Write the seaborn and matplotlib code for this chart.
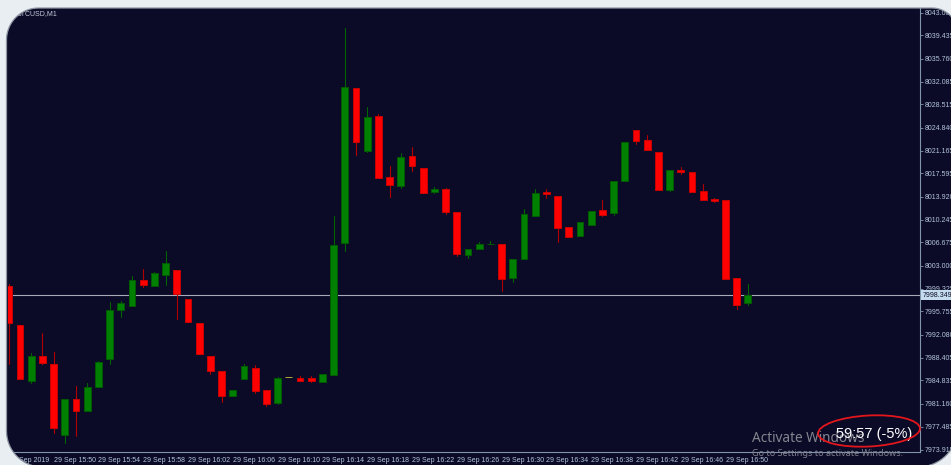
import numpy as np
import pandas as pd
import matplotlib
matplotlib.use("Agg")
import matplotlib.pyplot as plt
import seaborn as sns
from matplotlib.path import Path
from matplotlib.patches import PathPatch, Ellipse
from matplotlib.transforms import blended_transform_factory

# BTCUSD M1, 29 Sep 2019, one candle per minute from 15:46 to 16:52
opens = [7999.84, 7993.57, 7984.80, 7988.71, 7987.45, 7976.26, 7981.86, 7980.01, 7983.81, 7988.28,
         7995.94, 7996.62, 8000.78, 7999.84, 8001.53, 8002.32, 7997.78, 7993.89, 7988.71, 7986.39,
         7982.34, 7985.12, 7986.77, 7983.33, 7981.23, 7985.34, 7985.23, 7985.23, 7984.55, 7985.75,
         8006.59, 8031.12, 8021.20, 8026.69, 8017.03, 8015.66, 8020.31, 8018.51, 8014.66, 8015.09,
         8011.45, 8004.69, 8005.59, 8006.38, 8006.43, 8001.05, 8004.06, 8010.91, 8014.71, 8014.08,
         8009.12, 8007.70, 8009.44, 8011.81, 8011.39, 8016.45, 8024.47, 8022.84, 8020.94, 8015.03,
         8018.14, 8017.78, 8014.87, 8013.51, 8013.35, 8001.05, 7997.10]
highs = [8000.10, 7993.60, 7989.19, 7992.40, 7989.39, 7981.86, 7983.97, 7984.49, 7987.92, 7997.26,
         7997.41, 8001.37, 8002.48, 8002.05, 8005.33, 8002.32, 7997.78, 7993.89, 7988.71, 7986.39,
         7983.33, 7987.40, 7987.29, 7983.33, 7985.44, 7985.34, 7985.55, 7985.55, 7985.86, 8010.86,
         8040.56, 8031.12, 8028.16, 8027.00, 8018.78, 8020.79, 8021.78, 8018.51, 8015.41, 8015.29,
         8011.45, 8005.59, 8006.75, 8006.91, 8006.43, 8004.14, 8011.97, 8015.14, 8015.18, 8014.08,
         8009.12, 8009.91, 8011.66, 8013.40, 8016.40, 8022.53, 8024.47, 8023.68, 8020.94, 8018.10,
         8018.57, 8017.78, 8015.93, 8013.66, 8013.35, 8001.05, 8000.15]
lows = [7987.45, 7985.03, 7984.49, 7987.45, 7976.58, 7974.99, 7976.05, 7980.01, 7983.81, 7987.49,
        7994.93, 7996.62, 7999.68, 7999.84, 7999.95, 7994.57, 7994.09, 7988.98, 7985.91, 7981.48,
        7982.34, 7985.12, 7982.90, 7980.85, 7981.12, 7985.34, 7984.71, 7984.55, 7984.55, 7985.75,
        8005.37, 8020.56, 8021.04, 8016.92, 8013.92, 8015.34, 8018.03, 8014.55, 8014.50, 8011.23,
        8004.58, 8004.17, 8005.59, 8006.38, 7999.04, 8000.47, 8004.06, 8010.91, 8013.76, 8006.80,
        8007.59, 8007.70, 8009.44, 8010.91, 8011.02, 8016.45, 8022.21, 8021.35, 8015.03, 8014.87,
        8017.46, 8014.71, 8013.44, 8013.03, 8000.94, 7996.20, 7996.73]
closes = [7993.98, 7985.03, 7988.71, 7987.56, 7977.37, 7981.86, 7980.01, 7983.85, 7987.71, 7995.99,
          7997.05, 8000.78, 7999.95, 8001.80, 8003.43, 7998.57, 7994.09, 7988.98, 7986.39, 7982.43,
          7983.33, 7987.18, 7983.17, 7981.12, 7985.28, 7985.34, 7984.80, 7984.80, 7985.86, 8006.32,
          8031.32, 8022.62, 8026.53, 8016.92, 8015.82, 8020.20, 8018.82, 8014.55, 8015.18, 8011.45,
          8004.90, 8005.59, 8006.48, 8006.40, 8000.85, 8004.14, 8011.23, 8014.50, 8014.39, 8009.01,
          8007.59, 8009.91, 8011.66, 8011.07, 8016.40, 8022.53, 8022.78, 8021.35, 8015.03, 8018.10,
          8017.87, 8014.71, 8013.44, 8013.28, 8000.94, 7996.73, 7998.35]

bid = 7998.349
price_ticks = [7973.915, 7977.485, 7981.160, 7984.835, 7988.405, 7992.080, 7995.755, 7999.325,
               8003.000, 8006.675, 8010.245, 8013.920, 8017.595, 8021.165, 8024.840, 8028.515,
               8032.085, 8035.760, 8039.435, 8043.005]
time_labels = ["29 Sep 2019", "29 Sep 15:50", "29 Sep 15:54", "29 Sep 15:58", "29 Sep 16:02",
               "29 Sep 16:06", "29 Sep 16:10", "29 Sep 16:14", "29 Sep 16:18", "29 Sep 16:22",
               "29 Sep 16:26", "29 Sep 16:30", "29 Sep 16:34", "29 Sep 16:38", "29 Sep 16:42",
               "29 Sep 16:46", "29 Sep 16:50"]

NAVY = "#0b0a27"
AXC = "#8196ab"
TXT = "#b4c6da"

sns.set_theme(style="dark", rc={"axes.facecolor": "none", "figure.facecolor": NAVY,
                                "axes.edgecolor": AXC, "xtick.color": AXC, "ytick.color": AXC})
plt.rcParams["font.family"] = ["Liberation Sans", "DejaVu Sans"]

df = pd.DataFrame({"open": opens, "high": highs, "low": lows, "close": closes})
df["idx"] = np.arange(len(df))
df["dir"] = np.where(df["close"] > df["open"], "up", np.where(df["close"] < df["open"], "down", "flat"))

W, H = 951, 465
fig = plt.figure(figsize=(W / 100, H / 100), dpi=100)
ax = fig.add_axes([8 / W, 13 / H, 912 / W, 444 / H])

# wicks
wicks = pd.concat([df[["idx", "low", "dir"]].rename(columns={"low": "price"}),
                   df[["idx", "high", "dir"]].rename(columns={"high": "price"})])
sns.lineplot(data=wicks, x="idx", y="price", units="idx", hue="dir", estimator=None, sort=False,
             palette={"up": "#006400", "down": "#b00000", "flat": "#b8a838"},
             legend=False, linewidth=0.8, ax=ax)

# bodies
body_col = df["dir"].map({"up": "#008000", "down": "#ff0000", "flat": "#b8a838"})
edge_col = df["dir"].map({"up": "#005a00", "down": "#c80000", "flat": "#b8a838"})
ax.bar(df["idx"], (df["close"] - df["open"]).abs(), bottom=df[["open", "close"]].min(axis=1),
       width=0.62, color=body_col, edgecolor=edge_col, linewidth=0.7, zorder=3)

ax.axhline(bid, color="#a9a9b8", linewidth=0.8, zorder=1)

ax.set_xlim(-0.07, 81.36)
ax.set_ylim(7973.52, 8043.78)
ax.set_xlabel("")
ax.set_ylabel("")
ax.yaxis.tick_right()
ax.set_yticks(price_ticks)
ax.set_yticklabels([f"{v:.3f}" for v in price_ticks])
ax.set_xticks(np.arange(0, 65, 4))
ax.set_xticklabels(time_labels, ha="left")
ax.tick_params(axis="both", direction="out", length=2.2, width=0.6, labelsize=5,
               labelcolor=TXT, pad=1.2)
for s in ["left", "top"]:
    ax.spines[s].set_visible(False)
for s in ["right", "bottom"]:
    ax.spines[s].set_color(AXC)
    ax.spines[s].set_linewidth(0.8)
ax.grid(False)

bt = blended_transform_factory(ax.transAxes, ax.transData)
ax.text(1.003, bid, "7998.349", transform=bt, fontsize=5, color=NAVY, va="center", ha="left",
        bbox=dict(boxstyle="square,pad=0.25", facecolor="#c4dced", edgecolor="none"), clip_on=False)

# overlay in pixel coordinates: window corners, title, annotations
ov = fig.add_axes([0, 0, 1, 1], zorder=10)
ov.set_xlim(0, W)
ov.set_ylim(H, 0)
ov.axis("off")

ov.text(16, 13.5, "BTCUSD,M1", fontsize=5, color="#c3cbd9", va="center", ha="left", zorder=1)

x0, y0, x1, y1 = 6.5, 8, 958, 467
corners = [(x0 + 32, y0 + 32, 32, 180), (x1 - 26, y0 + 26, 26, 270),
           (x1 - 40, y1 - 40, 40, 0), (x0 + 36, y1 - 36, 36, 90)]
pts = []
for cx, cy, r, a0 in corners:
    a = np.radians(np.linspace(a0, a0 + 90, 18))
    pts += list(zip(cx + r * np.cos(a), cy + r * np.sin(a)))
inner = np.array(pts)
outer = np.array([(-3, -3), (W + 3, -3), (W + 3, H + 3), (-3, H + 3)])
verts = np.vstack([outer, outer[:1], inner[::-1], inner[-1:]])
codes = ([Path.MOVETO] + [Path.LINETO] * 3 + [Path.CLOSEPOLY] +
         [Path.MOVETO] + [Path.LINETO] * (len(inner) - 1) + [Path.CLOSEPOLY])
ov.add_patch(PathPatch(Path(verts, codes), facecolor="#e9eef3", edgecolor="none", zorder=2))
ov.add_patch(PathPatch(Path(np.vstack([inner, inner[:1]]), closed=True), facecolor="none",
                       edgecolor="#8d96a3", linewidth=0.9, zorder=3))

ov.text(752, 442, "Activate Windows", fontsize=9.8, color="#85858f", family="Noto Sans",
        va="baseline", ha="left", zorder=4)
ov.text(752, 456, "Go to Settings to activate Windows.", fontsize=6.5, color="#80808e",
        family="Noto Sans", va="baseline", ha="left", zorder=4)
ov.text(836, 434, "59:57 (-5%)", fontsize=10.5, color="white", va="center", ha="left", zorder=5)
ov.add_patch(Ellipse((869, 431), 102, 31, angle=-3, fill=False, edgecolor="#e3161c",
                     linewidth=1.3, zorder=6))

fig.savefig("out.png", dpi=100, facecolor=NAVY)
